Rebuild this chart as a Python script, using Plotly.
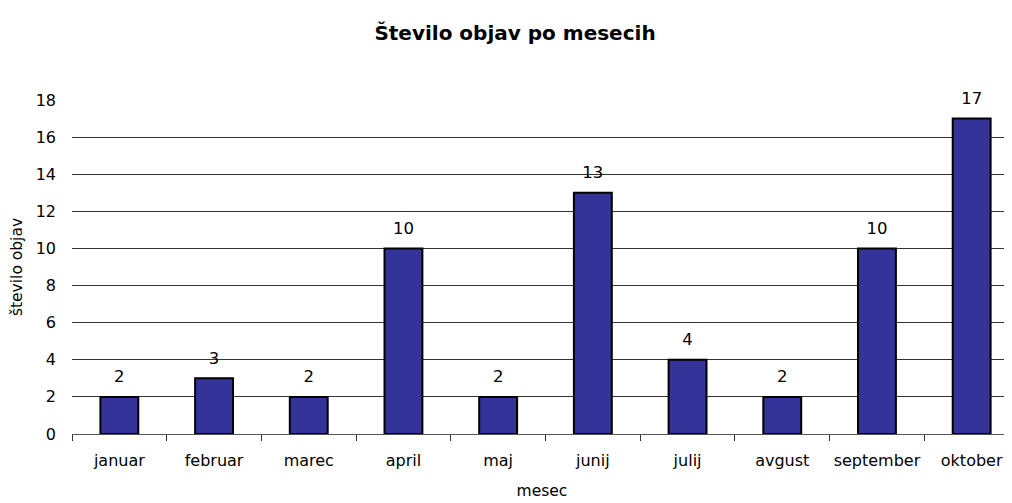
import plotly.graph_objects as go

months = ["januar", "februar", "marec", "april", "maj", "junij", "julij", "avgust", "september", "oktober"]
counts = [2, 3, 2, 10, 2, 13, 4, 2, 10, 17]
y_ticks = [0, 2, 4, 6, 8, 10, 12, 14, 16, 18]
grid_vals = [2, 4, 6, 8, 10, 12, 14, 16]

FONT = "DejaVu Sans"
FS = 16

fig = go.Figure()
fig.add_trace(go.Bar(
    x=months, y=counts,
    marker=dict(color="#333399", line=dict(color="black", width=2)),
    width=0.40, hoverinfo="skip",
))
# value labels, lifted above the bars by an invisible marker
fig.add_trace(go.Scatter(
    x=months, y=counts, mode="markers+text",
    text=[str(v) for v in counts], textposition="top center",
    textfont=dict(family=FONT, size=16.5, color="black"),
    marker=dict(size=15, opacity=0), cliponaxis=False, hoverinfo="skip",
))
# invisible trace on second y-axis for gridlines
fig.add_trace(go.Scatter(x=months, y=counts, yaxis="y2", mode="markers",
                         marker=dict(opacity=0), hoverinfo="skip", showlegend=False))

fig.update_layout(
    width=1004, height=495,
    paper_bgcolor="white", plot_bgcolor="white",
    margin=dict(l=64, r=0, t=92, b=69),
    showlegend=False,
    title=dict(text="<b>Število objav po mesecih</b>", x=0.505, xanchor="center",
               y=0.949, yanchor="middle",
               font=dict(family=FONT, size=20, color="black")),
    font=dict(family=FONT, size=FS, color="black"),
    xaxis=dict(
        automargin=False, tickangle=0, range=[-0.5, 9.426],
        showline=True, linecolor="#555", linewidth=1,
        ticks="outside", ticklen=6, tickcolor="#333", tickson="boundaries",
        ticklabelstandoff=12,
        showgrid=False, tickfont=dict(family=FONT, size=FS, color="black"),
        title=dict(text="mesec", font=dict(family=FONT, size=15.5, color="black"), standoff=15),
    ),
    yaxis=dict(
        automargin=False,
        range=[0, 18], tickvals=y_ticks, showgrid=False, zeroline=False,
        showline=False, ticks="", ticklabelstandoff=15,
        tickfont=dict(family=FONT, size=FS, color="black"),
        title=dict(text="število objav", font=dict(family=FONT, size=15.5, color="black"), standoff=12),
    ),
    yaxis2=dict(
        automargin=False,
        range=[0, 18], overlaying="y", side="left", tickvals=grid_vals,
        showgrid=True, gridcolor="#333", gridwidth=1, showticklabels=False,
        zeroline=False, showline=False, layer="below traces",
    ),
)

fig.write_html("out.html")
